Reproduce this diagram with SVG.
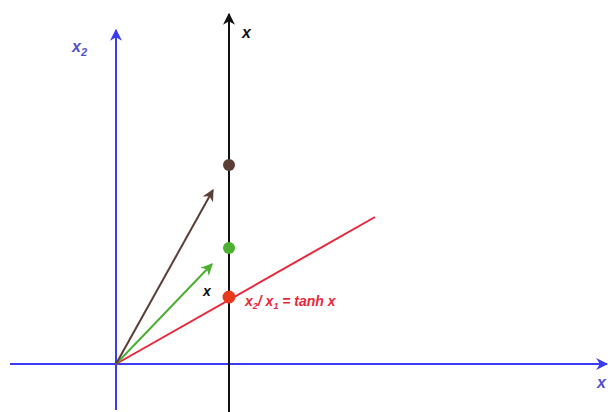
<svg xmlns="http://www.w3.org/2000/svg" width="608" height="412" viewBox="0 0 608 412">
<defs>
<style>
.lbl{font-family:"Liberation Sans",Arial,sans-serif;font-style:italic;font-weight:bold;}
</style>
<marker id="ab" viewBox="0 0 10 10" refX="9" refY="5" markerWidth="7" markerHeight="6" orient="auto" markerUnits="strokeWidth"><path d="M0,0 L10,5 L0,10 L3,5 z" fill="#3b3bf0"/></marker>
<marker id="ak" viewBox="0 0 10 10" refX="9" refY="5" markerWidth="7" markerHeight="6" orient="auto" markerUnits="strokeWidth"><path d="M0,0 L10,5 L0,10 L3,5 z" fill="#111"/></marker>
<marker id="ag" viewBox="0 0 10 10" refX="9" refY="5" markerWidth="7" markerHeight="6" orient="auto" markerUnits="strokeWidth"><path d="M0,0 L10,5 L0,10 L3,5 z" fill="#4caf32"/></marker>
<marker id="an" viewBox="0 0 10 10" refX="9" refY="5" markerWidth="7" markerHeight="6" orient="auto" markerUnits="strokeWidth"><path d="M0,0 L10,5 L0,10 L3,5 z" fill="#5a3e36"/></marker>
</defs>
<rect width="608" height="412" fill="#fff"/>
<g id="connectors">
<line x1="116" y1="410" x2="116" y2="30" stroke="#3b3bf0" stroke-width="2" marker-end="url(#ab)"/>
<line x1="10" y1="364" x2="607" y2="364" stroke="#3b3bf0" stroke-width="2" marker-end="url(#ab)"/>
<line x1="229" y1="412" x2="229" y2="14" stroke="#111" stroke-width="2" marker-end="url(#ak)"/>
<line x1="116" y1="364" x2="375" y2="217" stroke="#e8283a" stroke-width="2"/>
<line x1="116" y1="364" x2="212" y2="264" stroke="#4caf32" stroke-width="2" marker-end="url(#ag)"/>
<line x1="116" y1="364" x2="213" y2="190" stroke="#5a3e36" stroke-width="2" marker-end="url(#an)"/>
</g>
<g id="dot-brown"><circle cx="229" cy="165" r="6" fill="#5a3e36"/></g>
<g id="dot-green"><circle cx="229" cy="248" r="6" fill="#4caf32"/></g>
<g id="dot-red"><circle cx="229" cy="297" r="6.5" fill="#e8391a"/></g>
<g id="labels">
<text class="lbl" x="72" y="52" font-size="16" fill="#5050d0">x<tspan font-size="11" dy="4">2</tspan></text>
<text class="lbl" x="242" y="38" font-size="16" fill="#111">x</text>
<text class="lbl" x="597" y="388" font-size="16" fill="#5050d0">x</text>
<text class="lbl" x="203" y="296" font-size="14" fill="#111">x</text>
<text class="lbl" x="245" y="306" font-size="14" fill="#e8283a">x<tspan font-size="9" dy="3">2</tspan><tspan dy="-3">/ x</tspan><tspan font-size="9" dy="3">1</tspan><tspan dy="-3"> = tanh x</tspan></text>
</g>
</svg>
